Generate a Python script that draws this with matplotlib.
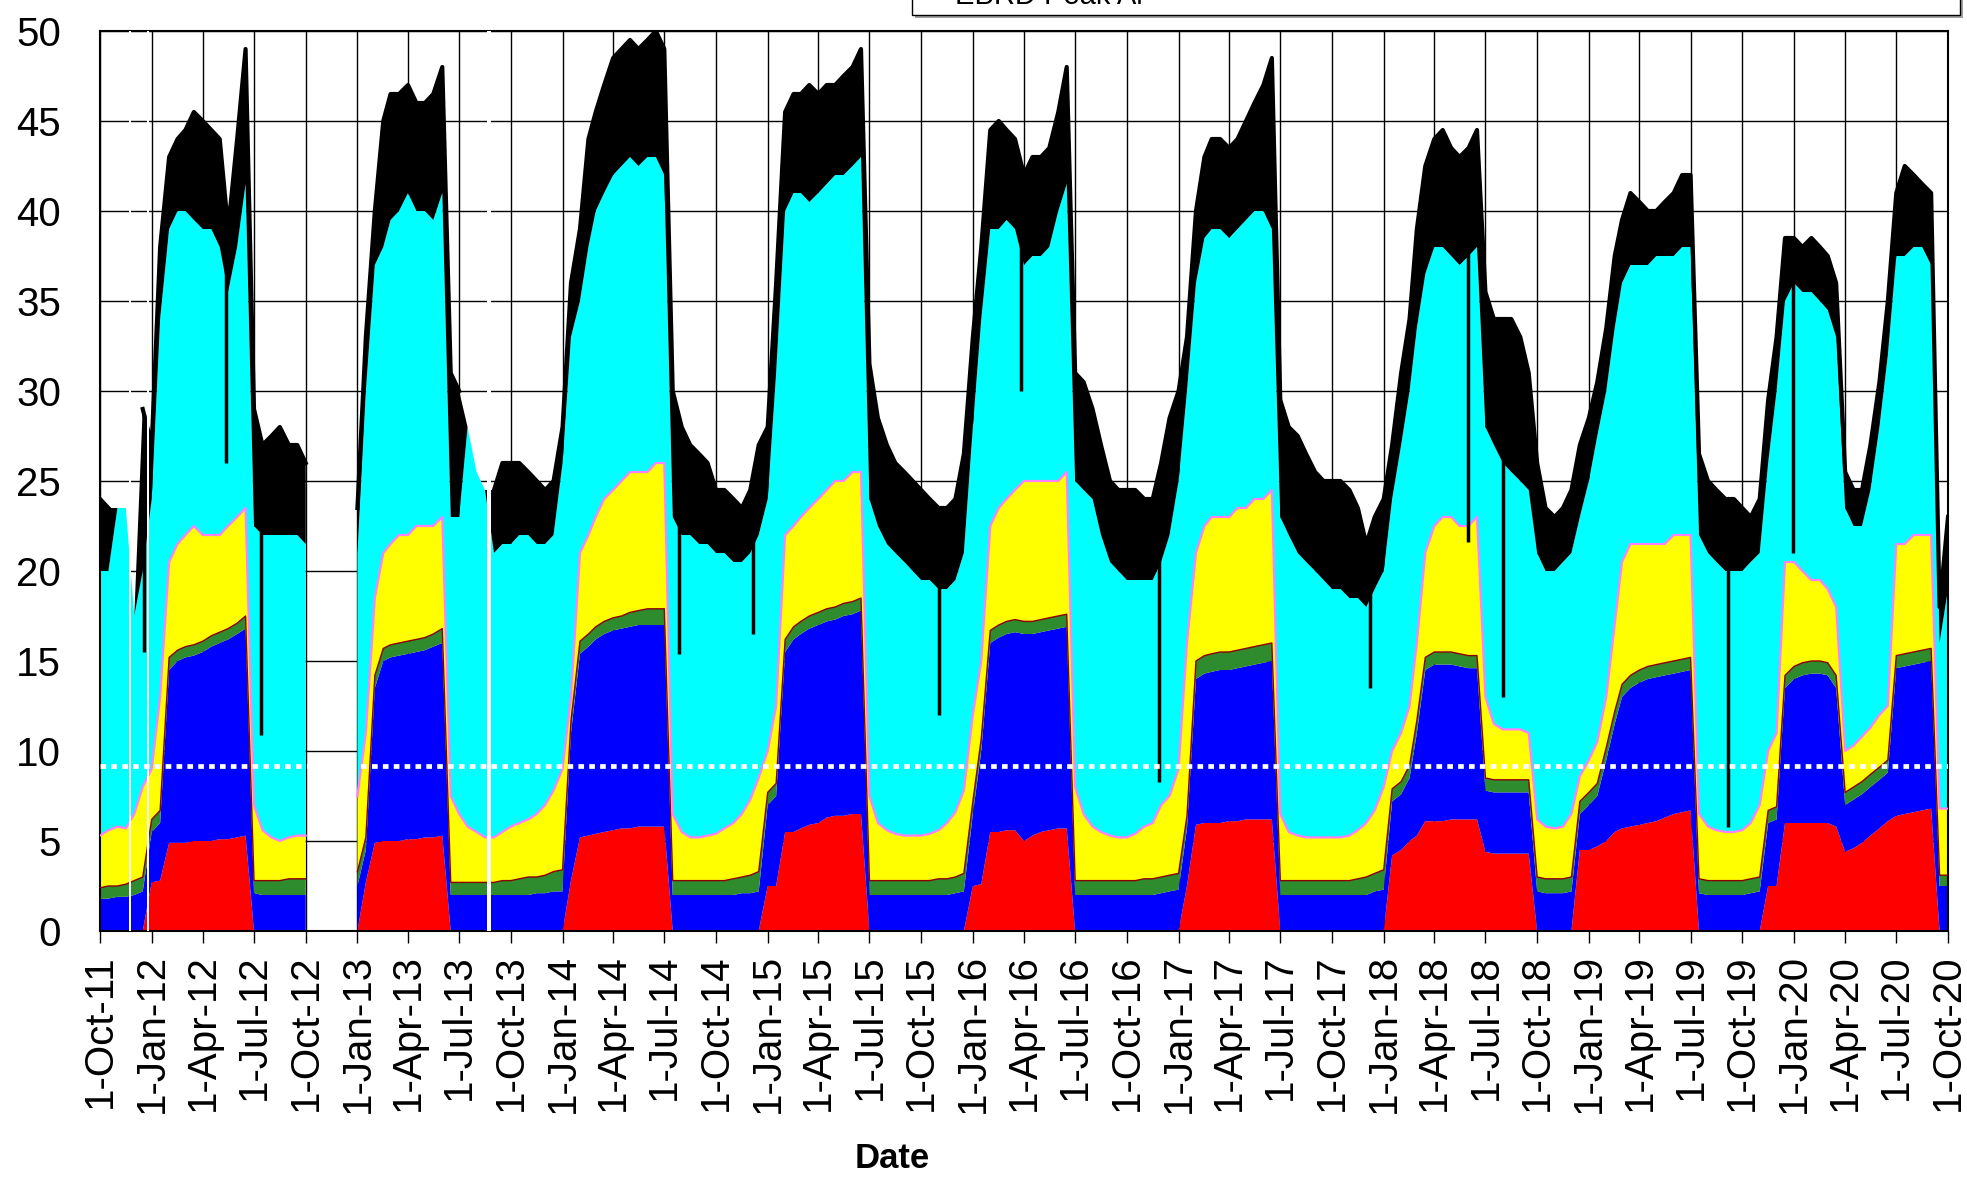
import numpy as np
import matplotlib
matplotlib.use('Agg')
import matplotlib.pyplot as plt
import matplotlib.dates as mdates
from matplotlib.patches import Rectangle
import datetime as dt

plt.rcParams['font.family'] = ['Liberation Sans', 'DejaVu Sans']

nan = np.nan

# semi-monthly sample dates (1st and 16th), 1-Oct-2011 .. 1-Oct-2020
dates = [dt.date(y, m, d) for y in range(2011, 2021) for m in range(1, 13) for d in (1, 16)]
dates = [d for d in dates if dt.date(2011, 10, 1) <= d <= dt.date(2020, 10, 1)]

# cumulative tops of each stacked layer
red = [
    0, 0, 0, 0, 0, 0,
    2.7, 2.8, 4.9, 4.9, 4.9, 5.0, 5.0, 5.0, 5.1, 5.1, 5.2, 5.3, 0, 0, 0, 0, 0, 0, 0, nan, nan, nan, nan, nan,
    0, 2.7, 4.9, 5.0, 5.0, 5.0, 5.1, 5.1, 5.2, 5.2, 5.3, 0, 0, 0, 0, 0, 0, 0, 0, 0, 0, 0, 0, 0,
    0, 2.8, 5.2, 5.3, 5.4, 5.5, 5.6, 5.7, 5.7, 5.8, 5.8, 5.8, 5.8, 0, 0, 0, 0, 0, 0, 0, 0, 0, 0, 0,
    2.5, 2.5, 5.5, 5.5, 5.7, 5.9, 6.0, 6.3, 6.4, 6.4, 6.5, 6.5, 0, 0, 0, 0, 0, 0, 0, 0, 0, 0, 0, 0,
    2.5, 2.6, 5.5, 5.5, 5.6, 5.6, 5.0, 5.3, 5.5, 5.6, 5.7, 5.7, 0, 0, 0, 0, 0, 0, 0, 0, 0, 0, 0, 0,
    0, 2.5, 5.9, 6.0, 6.0, 6.0, 6.1, 6.1, 6.2, 6.2, 6.2, 6.2, 0, 0, 0, 0, 0, 0, 0, 0, 0, 0, 0, 0,
    0, 4.2, 4.5, 5.0, 5.3, 6.1, 6.1, 6.1, 6.2, 6.2, 6.2, 6.2, 4.4, 4.3, 4.3, 4.3, 4.3, 4.3, 0, 0, 0, 0, 0, 4.5,
    4.5, 4.7, 5.0, 5.5, 5.7, 5.8, 5.9, 6.0, 6.1, 6.3, 6.5, 6.6, 6.7, 0, 0, 0, 0, 0, 0, 0, 0, 2.5, 2.5, 6.0,
    6.0, 6.0, 6.0, 6.0, 6.0, 5.8, 4.4, 4.6, 4.9, 5.3, 5.7, 6.1, 6.4, 6.5, 6.6, 6.7, 6.8, 0,
    0,
]
blue = [
    1.8, 1.8, 1.9, 1.9, 2.0, 2.2,
    5.5, 6.0, 14.5, 15.0, 15.2, 15.3, 15.5, 15.8, 16.0, 16.2, 16.5, 16.8, 2.1, 2.0, 2.0, 2.0, 2.0, 2.0, 2.0, nan, nan, nan, nan, nan,
    2.5, 4.5, 13.5, 15.0, 15.2, 15.3, 15.4, 15.5, 15.6, 15.8, 16.0, 2.0, 2.0, 2.0, 2.0, 2.0, 2.0, 2.0, 2.0, 2.0, 2.0, 2.1, 2.1, 2.2,
    2.2, 11.0, 15.4, 15.8, 16.2, 16.5, 16.7, 16.8, 16.9, 17.0, 17.0, 17.0, 17.0, 2.0, 2.0, 2.0, 2.0, 2.0, 2.0, 2.0, 2.0, 2.1, 2.1, 2.2,
    7.0, 7.5, 15.5, 16.2, 16.5, 16.8, 17.0, 17.2, 17.3, 17.5, 17.6, 17.8, 2.0, 2.0, 2.0, 2.0, 2.0, 2.0, 2.0, 2.0, 2.0, 2.0, 2.1, 2.2,
    6.5, 10.0, 16.0, 16.3, 16.5, 16.6, 16.5, 16.5, 16.6, 16.7, 16.8, 16.9, 2.0, 2.0, 2.0, 2.0, 2.0, 2.0, 2.0, 2.0, 2.0, 2.0, 2.1, 2.2,
    2.3, 5.7, 14.0, 14.3, 14.4, 14.5, 14.5, 14.6, 14.7, 14.8, 14.9, 15.0, 2.0, 2.0, 2.0, 2.0, 2.0, 2.0, 2.0, 2.0, 2.0, 2.0, 2.0, 2.2,
    2.3, 7.2, 7.6, 8.5, 11.0, 14.5, 14.8, 14.8, 14.8, 14.7, 14.6, 14.6, 7.8, 7.7, 7.7, 7.7, 7.7, 7.7, 2.2, 2.1, 2.1, 2.1, 2.2, 6.5,
    7.0, 7.5, 9.5, 11.5, 13.0, 13.5, 13.8, 14.0, 14.1, 14.2, 14.3, 14.4, 14.5, 2.1, 2.0, 2.0, 2.0, 2.0, 2.0, 2.1, 2.2, 6.0, 6.2, 13.5,
    14.0, 14.2, 14.3, 14.3, 14.2, 13.5, 7.0, 7.3, 7.6, 8.0, 8.4, 8.8, 14.6, 14.7, 14.8, 14.9, 15.0, 2.5,
    2.5,
]
green = [
    2.4, 2.5, 2.5, 2.6, 2.8, 3.0,
    6.2, 6.7, 15.2, 15.6, 15.8, 15.9, 16.1, 16.4, 16.6, 16.8, 17.1, 17.5, 2.8, 2.8, 2.8, 2.8, 2.9, 2.9, 2.9, nan, nan, nan, nan, nan,
    3.3, 5.2, 14.2, 15.7, 15.9, 16.0, 16.1, 16.2, 16.3, 16.5, 16.8, 2.7, 2.7, 2.7, 2.7, 2.7, 2.7, 2.8, 2.8, 2.9, 3.0, 3.0, 3.1, 3.3,
    3.4, 11.7, 16.1, 16.5, 16.9, 17.2, 17.4, 17.5, 17.7, 17.8, 17.9, 17.9, 17.9, 2.8, 2.8, 2.8, 2.8, 2.8, 2.8, 2.8, 2.9, 3.0, 3.1, 3.3,
    7.7, 8.2, 16.2, 16.9, 17.2, 17.5, 17.7, 17.9, 18.0, 18.2, 18.3, 18.5, 2.8, 2.8, 2.8, 2.8, 2.8, 2.8, 2.8, 2.8, 2.9, 2.9, 3.0, 3.2,
    7.2, 10.7, 16.7, 17.0, 17.2, 17.3, 17.2, 17.2, 17.3, 17.4, 17.5, 17.6, 2.8, 2.8, 2.8, 2.8, 2.8, 2.8, 2.8, 2.8, 2.9, 2.9, 3.0, 3.1,
    3.2, 6.4, 15.0, 15.3, 15.4, 15.5, 15.5, 15.6, 15.7, 15.8, 15.9, 16.0, 2.8, 2.8, 2.8, 2.8, 2.8, 2.8, 2.8, 2.8, 2.8, 2.9, 3.0, 3.2,
    3.4, 7.9, 8.3, 9.2, 11.7, 15.2, 15.5, 15.5, 15.5, 15.4, 15.3, 15.3, 8.5, 8.4, 8.4, 8.4, 8.4, 8.4, 3.0, 2.9, 2.9, 2.9, 3.0, 7.2,
    7.7, 8.2, 10.2, 12.2, 13.7, 14.2, 14.5, 14.7, 14.8, 14.9, 15.0, 15.1, 15.2, 2.9, 2.8, 2.8, 2.8, 2.8, 2.8, 2.9, 3.0, 6.7, 6.9, 14.2,
    14.7, 14.9, 15.0, 15.0, 14.9, 14.2, 7.7, 8.0, 8.3, 8.7, 9.1, 9.5, 15.3, 15.4, 15.5, 15.6, 15.7, 3.1,
    3.1,
]
yellow = [
    5.3, 5.6, 5.8, 5.7, 6.5, 8.0,
    9.0, 13.0, 20.5, 21.5, 22.0, 22.5, 22.0, 22.0, 22.0, 22.5, 23.0, 23.5, 7.0, 5.6, 5.2, 5.0, 5.2, 5.3, 5.3, nan, nan, nan, nan, nan,
    7.5, 11.0, 18.5, 21.0, 21.5, 22.0, 22.0, 22.5, 22.5, 22.5, 23.0, 7.5, 6.5, 5.8, 5.5, 5.2, 5.2, 5.5, 5.8, 6.0, 6.2, 6.5, 7.0, 7.8,
    9.0, 13.0, 21.0, 22.0, 23.0, 24.0, 24.5, 25.0, 25.5, 25.5, 25.5, 26.0, 26.0, 6.5, 5.5, 5.2, 5.2, 5.3, 5.4, 5.7, 6.0, 6.5, 7.3, 8.5,
    10.0, 12.5, 22.0, 22.5, 23.0, 23.5, 24.0, 24.5, 25.0, 25.0, 25.5, 25.5, 7.5, 6.0, 5.6, 5.4, 5.3, 5.3, 5.3, 5.4, 5.6, 6.0, 6.6, 7.8,
    12.0, 15.0, 22.5, 23.5, 24.0, 24.5, 25.0, 25.0, 25.0, 25.0, 25.0, 25.5, 8.0, 6.5, 5.8, 5.5, 5.3, 5.2, 5.2, 5.4, 5.8, 6.0, 7.0, 7.5,
    9.0, 16.0, 21.0, 22.5, 23.0, 23.0, 23.0, 23.5, 23.5, 24.0, 24.0, 24.5, 6.5, 5.5, 5.3, 5.2, 5.2, 5.2, 5.2, 5.2, 5.3, 5.6, 6.0, 6.7,
    8.0, 10.0, 11.0, 12.5, 16.0, 21.0, 22.5, 23.0, 23.0, 22.5, 22.5, 23.0, 13.0, 11.5, 11.2, 11.2, 11.2, 11.0, 6.2, 5.8, 5.7, 5.8, 6.5, 8.6,
    9.5, 10.5, 13.0, 17.0, 20.5, 21.5, 21.5, 21.5, 21.5, 21.5, 22.0, 22.0, 22.0, 6.5, 5.8, 5.6, 5.5, 5.5, 5.6, 6.0, 7.0, 10.0, 11.0, 20.5,
    20.5, 20.0, 19.5, 19.5, 19.0, 18.0, 10.0, 10.3, 10.8, 11.3, 12.0, 12.5, 21.5, 21.5, 22.0, 22.0, 22.0, 6.8,
    6.8,
]
cyan = [
    20, 20, 23.5, 23.5, 17.5, 20,
    24, 34, 39, 40, 40, 39.5, 39, 39, 38, 35.5, 38, 41.5, 22.5, 22, 22, 22, 22, 22, 21.5, nan, nan, nan, nan, nan,
    21, 30, 37, 38, 39.5, 40, 41, 40, 40, 39.5, 41, 23, 23, 28, 25.5, 24.5, 21, 21.5, 21.5, 22, 22, 21.5, 21.5, 22,
    26, 33, 35, 38, 40, 41, 42, 42.5, 43, 42.5, 43, 43, 42, 23, 22, 22, 21.5, 21.5, 21, 21, 20.5, 20.5, 21, 22,
    24, 31, 40, 41, 41, 40.5, 41, 41.5, 42, 42, 42.5, 43, 24, 22.5, 21.5, 21, 20.5, 20, 19.5, 19.5, 19, 19, 19.5, 21,
    28, 34, 39, 39, 39.5, 39, 37, 37.5, 37.5, 38, 40, 41.5, 25, 24.5, 24, 22, 20.5, 20, 19.5, 19.5, 19.5, 19.5, 20.5, 22,
    25, 30, 36, 38.5, 39, 39, 38.5, 39, 39.5, 40, 40, 39, 23, 22, 21, 20.5, 20, 19.5, 19, 19, 18.5, 18.5, 18, 19,
    20, 24, 27, 30, 33.5, 36.5, 38, 38, 37.5, 37, 37.5, 38, 28, 27, 26, 25.5, 25, 24.5, 21, 20, 20, 20.5, 21, 23,
    25, 27.5, 30, 33.5, 36, 37, 37, 37, 37.5, 37.5, 37.5, 38, 38, 22, 21, 20.5, 20, 20, 20, 20.5, 21, 26, 30, 35,
    36, 35.5, 35.5, 35, 34.5, 33, 23.5, 22.5, 22.5, 24.5, 28, 32, 37.5, 37.5, 38, 38, 37, 16,
    19,
]
black = [
    24, 23.5, 23.5, 23.5, 17.5, 29,
    27, 38, 43, 44, 44.5, 45.5, 45, 44.5, 44, 39, 44, 49, 29, 27, 27.5, 28, 27, 27, 26, nan, nan, nan, nan, nan,
    23.5, 33, 40, 45, 46.5, 46.5, 47, 46, 46, 46.5, 48, 31, 30, 28, 25.5, 24.5, 24.5, 26, 26, 26, 25.5, 25, 24.5, 25,
    28, 36, 39, 44, 45.5, 47, 48.5, 49, 49.5, 49, 49.5, 50, 49, 30, 28, 27, 26.5, 26, 24.5, 24.5, 24, 23.5, 24.5, 27,
    28, 36, 45.5, 46.5, 46.5, 47, 46.5, 47, 47, 47.5, 48, 49, 31.5, 28.5, 27, 26, 25.5, 25, 24.5, 24, 23.5, 23.5, 24, 26.5,
    33, 38, 44.5, 45, 44.5, 44, 42, 43, 43, 43.5, 45.5, 48, 31, 30.5, 29, 27, 25, 24.5, 24.5, 24.5, 24, 24, 26, 28.5,
    30, 33, 40, 43, 44, 44, 43.5, 44, 45, 46, 47, 48.5, 29.5, 28, 27.5, 26.5, 25.5, 25, 25, 25, 24.5, 23.5, 21.5, 23,
    24, 27, 31, 34, 39, 42.5, 44, 44.5, 43.5, 43, 43.5, 44.5, 35.5, 34, 34, 34, 33, 31, 26, 23.5, 23, 23.5, 24.5, 27,
    28.5, 30.5, 33.5, 37.5, 39.5, 41, 40.5, 40, 40, 40.5, 41, 42, 42, 26.5, 25, 24.5, 24, 24, 23.5, 23, 24, 29.5, 33, 38.5,
    38.5, 38, 38.5, 38, 37.5, 36, 25.5, 24.5, 24.5, 27, 30.5, 35, 41, 42.5, 42, 41.5, 41, 18,
    23,
]

# single-day drops of the total (date, value)
dip_dates = ['2011-12-18', '2012-05-12', '2012-07-14', '2014-07-28', '2014-12-05', '2015-11-01',
             '2016-03-27', '2016-11-28', '2017-12-08', '2018-05-31', '2018-08-01', '2019-09-05', '2019-12-30']
dip_values = [15.5, 26, 10.9, 15.4, 16.5, 12.0, 30, 8.3, 13.5, 21.6, 13.0, 5.8, 21]

# short spans with no data
missing_spans = [('2011-11-21', '2011-11-25'), ('2011-12-24', '2011-12-28'), ('2013-08-19', '2013-08-26')]

threshold = 9.15

quarter_ticks = [dt.date(y, m, 1) for y in range(2011, 2021) for m in (1, 4, 7, 10)]
quarter_ticks = [d for d in quarter_ticks if dt.date(2011, 10, 1) <= d <= dt.date(2020, 10, 1)]
tick_labels = [f"{d.day}-{d.strftime('%b')}-{d.strftime('%y')}" for d in quarter_ticks]

# ---------------------------------------------------------------
x = mdates.date2num(dates)
R, B, G, Y, C, K = (np.array(a, dtype=float) for a in (red, blue, green, yellow, cyan, black))
base = np.where(np.isnan(R), np.nan, 0.0)

fig = plt.figure(figsize=(19.67, 11.77), dpi=100)
ax = fig.add_axes([100 / 1967, 1 - 931 / 1177, 1848 / 1967, 900 / 1177])

stack = [(base, R, '#FF0000'), (R, B, '#0000FF'), (B, G, '#2E8B2E'),
         (G, Y, '#FFFF00'), (Y, C, '#00FFFF'), (C, K, '#000000')]
for lo, hi, col in stack:
    ax.fill_between(x, lo, hi, color=col, linewidth=0, zorder=2)

ax.plot(x, G, color='#8B0000', lw=1.0, zorder=3)
ax.plot(x, Y, color='#FF80FF', lw=1.6, zorder=3)
K_line = np.where(K > C, K, np.nan)
ax.plot(x, K_line, color='black', lw=3.0, zorder=3)

dx = mdates.date2num([dt.date.fromisoformat(s) for s in dip_dates])
ax.vlines(dx, dip_values, np.interp(dx, x, np.nan_to_num(K)), color='black', lw=2.5, zorder=3)

for a, b in missing_spans:
    ax.axvspan(mdates.date2num(dt.date.fromisoformat(a)), mdates.date2num(dt.date.fromisoformat(b)),
               color='white', lw=0, zorder=3.5)

ax.axhline(threshold, color='white', lw=3.4, linestyle=(0, (1.2, 1.1)), zorder=4)

ax.set_xlim(x[0], x[-1])
ax.set_ylim(0, 50)
ax.set_yticks(np.arange(0, 51, 5))
ax.set_xticks(mdates.date2num(quarter_ticks))
ax.set_xticklabels(tick_labels, rotation=90)
ax.set_axisbelow(True)
ax.grid(True, color='black', lw=1.0)
ax.tick_params(axis='x', direction='out', length=8.6, width=1, pad=8, labelsize=29)
ax.tick_params(axis='y', length=0, pad=28, labelsize=29)
for s in ax.spines.values():
    s.set_linewidth(1.5)

fig.text(892 / 1967, 1 - 1158 / 1177, 'Date', ha='center', va='center', fontsize=25, fontweight='bold')

# legend box, cut off by the top of the picture
box_w = (1960 - 912) / 1967
fig.patches.append(Rectangle((915 / 1967, 1 - 18 / 1177), box_w, 0.05, transform=fig.transFigure,
                             facecolor='#A0A0A0', edgecolor='none', zorder=5))
fig.patches.append(Rectangle((912 / 1967, 1 - 15 / 1177), box_w, 0.05, transform=fig.transFigure,
                             facecolor='white', edgecolor='black', lw=1.0, zorder=6))
fig.text(955 / 1967, 1 - 4 / 1177, 'EBRD Peak Al', fontsize=21, va='baseline', ha='left', zorder=7)

fig.savefig('out.png', dpi=100)
